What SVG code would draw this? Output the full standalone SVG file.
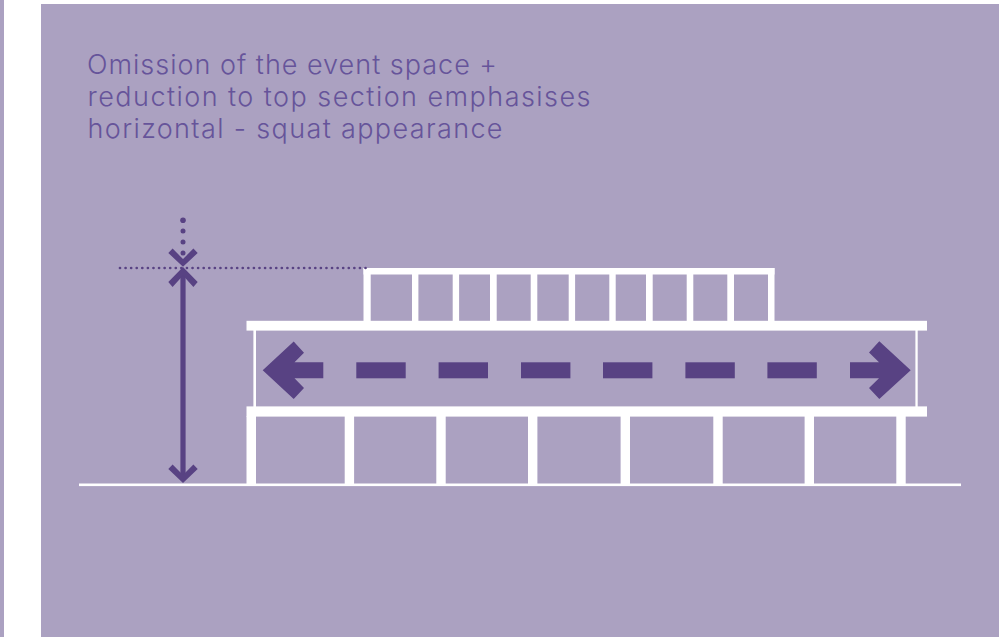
<svg xmlns="http://www.w3.org/2000/svg" width="1004" height="637" viewBox="0 0 1004 637">
<style>
.bg{fill:#aba1c1}
.w{fill:#fff}
.p{fill:#584283}
.t{font-family:"Inter","Liberation Sans",sans-serif;font-weight:300;font-size:27px;fill:#66549a}
</style>
<rect width="1004" height="637" fill="#fff"/>
<rect class="bg" x="0" y="0" width="4" height="637"/>
<rect class="bg" x="41" y="4" width="958" height="633"/>
<g id="caption">
<text class="t" x="87" y="74" textLength="410" lengthAdjust="spacing">Omission of the event space +</text>
<text class="t" x="87.5" y="106" textLength="503" lengthAdjust="spacing">reduction to top section emphasises</text>
<text class="t" x="87.5" y="138" textLength="415" lengthAdjust="spacing">horizontal - squat appearance</text>
</g>
<g id="ground"><rect class="w" x="79" y="483.5" width="882" height="2.6"/></g>
<g id="top-section">
<rect class="w" x="363.5" y="268" width="411" height="6.5"/>
<rect class="w" x="363.5" y="268" width="7.2" height="54"/>
<rect class="w" x="412" y="268" width="6.4" height="54"/>
<rect class="w" x="452.7" y="268" width="6.4" height="54"/>
<rect class="w" x="490" y="268" width="6.7" height="54"/>
<rect class="w" x="530.7" y="268" width="6.6" height="54"/>
<rect class="w" x="568.7" y="268" width="6.4" height="54"/>
<rect class="w" x="609.3" y="268" width="6.4" height="54"/>
<rect class="w" x="646" y="268" width="6.7" height="54"/>
<rect class="w" x="686.7" y="268" width="6.6" height="54"/>
<rect class="w" x="727.3" y="268" width="6.7" height="54"/>
<rect class="w" x="768" y="268" width="6.5" height="54"/>
</g>
<g id="main-section">
<rect class="w" x="246.5" y="320.8" width="680.5" height="9.8"/>
<rect class="w" x="246.5" y="406.4" width="680.5" height="10.2"/>
<rect class="w" x="253.4" y="330" width="2.6" height="77"/>
<rect class="w" x="915.4" y="330" width="2.3" height="77"/>
</g>
<g id="pilotis">
<rect class="w" x="246.5" y="416" width="9.5" height="68"/>
<rect class="w" x="344.7" y="416" width="9.4" height="68"/>
<rect class="w" x="436.3" y="416" width="9.4" height="68"/>
<rect class="w" x="528" y="416" width="9.4" height="68"/>
<rect class="w" x="620.6" y="416" width="9.4" height="68"/>
<rect class="w" x="713.3" y="416" width="9.4" height="68"/>
<rect class="w" x="804.6" y="416" width="9.4" height="68"/>
<rect class="w" x="896.3" y="416" width="9.4" height="68"/>
</g>
<g id="connectors">
<rect class="p" x="180.4" y="272" width="5.2" height="208"/>
<polygon class="p" points="183,483 168.3,469 172.6,464.5 183,475 193.4,464.5 197.7,469"/>
<polygon class="p" points="183,267 168.3,282 172.6,287 183,275.5 193.4,287 197.7,282"/>
<polygon class="p" points="183,266.8 168.3,253 172.6,248.6 183,259 193.4,248.6 197.7,253"/>
<circle class="p" cx="183" cy="220.3" r="2.8"/>
<circle class="p" cx="183" cy="231" r="2.5"/>
<circle class="p" cx="183" cy="242" r="2.5"/>
<circle class="p" cx="183" cy="253" r="2.5"/>
<line x1="120" y1="268" x2="367" y2="268" stroke="#584283" stroke-width="2.7" stroke-linecap="round" stroke-dasharray="0 5.58"/>
<polygon class="p" points="262.7,370.3 293.7,341.5 304,352.7 294.5,362.3 323.3,362.3 323.3,378.3 294.5,378.3 304,388 293.7,399"/>
<rect class="p" x="356.3" y="362.3" width="49.4" height="16"/>
<rect class="p" x="438.6" y="362.3" width="49.4" height="16"/>
<rect class="p" x="521" y="362.3" width="49.4" height="16"/>
<rect class="p" x="603" y="362.3" width="49.4" height="16"/>
<rect class="p" x="685.4" y="362.3" width="49.4" height="16"/>
<rect class="p" x="767.4" y="362.3" width="49.4" height="16"/>
<polygon class="p" points="910.7,370.3 879.3,341.3 869,352.5 879,362.3 850,362.3 850,378.3 879,378.3 869,388 879.3,399"/>
</g>
</svg>
